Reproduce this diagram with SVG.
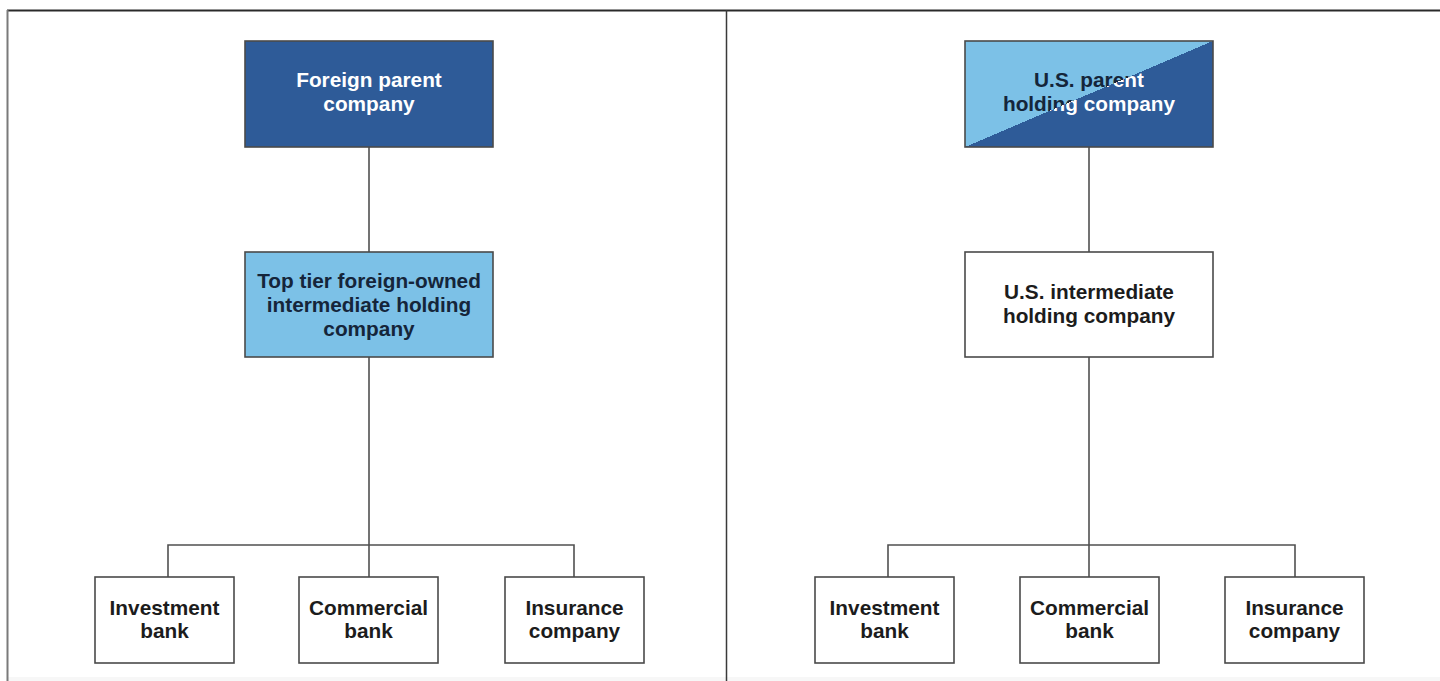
<svg xmlns="http://www.w3.org/2000/svg" width="1440" height="681" viewBox="0 0 1440 681">
<style>
.box{stroke:#4a4a4a;stroke-width:1.6}
.w{fill:#ffffff}
.dk{fill:#2e5b98}
.lt{fill:#7cc1e7}
.con{stroke:#505050;stroke-width:1.6;fill:none}
text{font-family:"Liberation Sans",Arial,sans-serif;font-weight:bold;font-size:20.8px;text-anchor:middle;fill:#1c1c1c}
.wt{fill:#ffffff}
.nt{fill:#15253a}
</style>
<defs>
<linearGradient id="split" gradientUnits="userSpaceOnUse" x1="983" y1="-154" x2="1195" y2="342">
<stop offset="0.5" stop-color="#7cc1e7"/>
<stop offset="0.5" stop-color="#2e5b98"/>
</linearGradient>
<linearGradient id="splitText" gradientUnits="userSpaceOnUse" x1="983" y1="-154" x2="1195" y2="342">
<stop offset="0.5" stop-color="#15253a"/>
<stop offset="0.5" stop-color="#ffffff"/>
</linearGradient>
</defs>
<rect x="0" y="0" width="1440" height="681" fill="#ffffff"/>
<rect x="8" y="677" width="1432" height="4" fill="#f7f7f7"/>
<g id="frame">
<line x1="7" y1="10.5" x2="1440" y2="10.5" stroke="#2a2a2a" stroke-width="2"/>
<line x1="7.5" y1="10" x2="7.5" y2="681" stroke="#7a7a7a" stroke-width="2"/>
<line x1="726.5" y1="10" x2="726.5" y2="681" stroke="#3a3a3a" stroke-width="1.5"/>
</g>
<g id="connectors">
<line class="con" x1="369" y1="147" x2="369" y2="252"/>
<line class="con" x1="369" y1="357" x2="369" y2="577"/>
<polyline class="con" points="168,577 168,545 574,545 574,577"/>
<line class="con" x1="1089" y1="147" x2="1089" y2="252"/>
<line class="con" x1="1089" y1="357" x2="1089" y2="577"/>
<polyline class="con" points="888,577 888,545 1295,545 1295,577"/>
</g>
<g id="foreign-parent">
<rect class="box dk" x="245" y="41" width="248" height="106"/>
<text class="wt" x="369" y="87">Foreign parent</text>
<text class="wt" x="369" y="111">company</text>
</g>
<g id="foreign-ihc">
<rect class="box lt" x="245" y="252" width="248" height="105"/>
<text class="nt" x="369" y="288">Top tier foreign-owned</text>
<text class="nt" x="369" y="312">intermediate holding</text>
<text class="nt" x="369" y="336">company</text>
</g>
<g id="left-investment">
<rect class="box w" x="95" y="577" width="139" height="86"/>
<text x="164.5" y="615">Investment</text>
<text x="164.5" y="638">bank</text>
</g>
<g id="left-commercial">
<rect class="box w" x="299" y="577" width="139" height="86"/>
<text x="368.5" y="615">Commercial</text>
<text x="368.5" y="638">bank</text>
</g>
<g id="left-insurance">
<rect class="box w" x="505" y="577" width="139" height="86"/>
<text x="574.5" y="615">Insurance</text>
<text x="574.5" y="638">company</text>
</g>
<g id="us-parent">
<rect class="box" x="965" y="41" width="248" height="106" fill="url(#split)"/>
<text x="1089" y="87" style="fill:url(#splitText)">U.S. parent</text>
<text x="1089" y="111" style="fill:url(#splitText)">holding company</text>
</g>
<g id="us-ihc">
<rect class="box w" x="965" y="252" width="248" height="105"/>
<text x="1089" y="299">U.S. intermediate</text>
<text x="1089" y="323">holding company</text>
</g>
<g id="right-investment">
<rect class="box w" x="815" y="577" width="139" height="86"/>
<text x="884.5" y="615">Investment</text>
<text x="884.5" y="638">bank</text>
</g>
<g id="right-commercial">
<rect class="box w" x="1020" y="577" width="139" height="86"/>
<text x="1089.5" y="615">Commercial</text>
<text x="1089.5" y="638">bank</text>
</g>
<g id="right-insurance">
<rect class="box w" x="1225" y="577" width="139" height="86"/>
<text x="1294.5" y="615">Insurance</text>
<text x="1294.5" y="638">company</text>
</g>
</svg>
